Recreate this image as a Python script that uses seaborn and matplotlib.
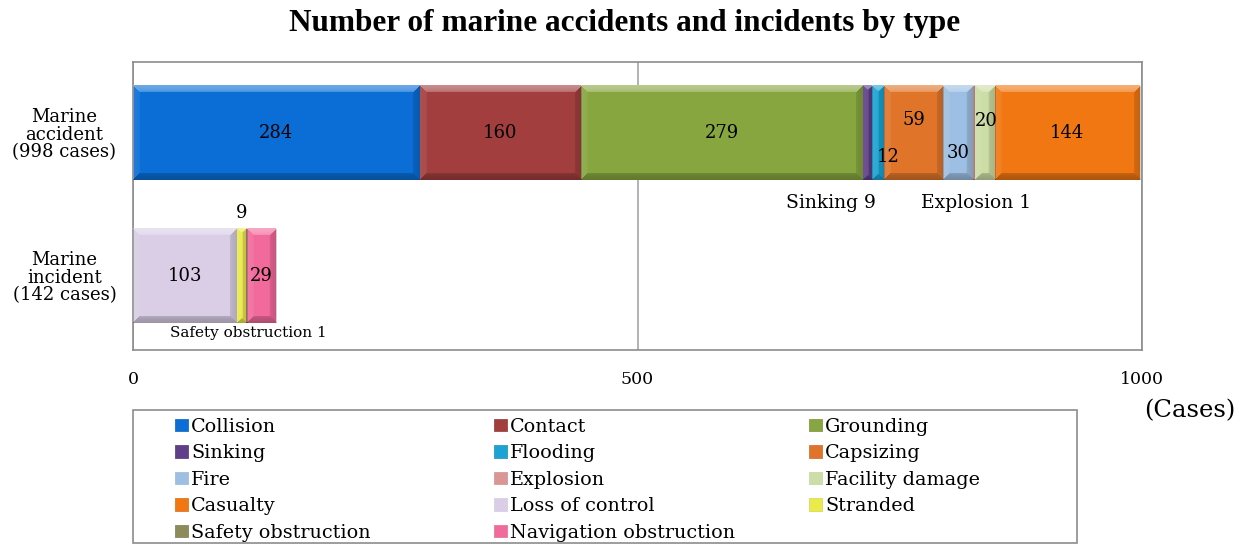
import numpy as np
import pandas as pd
import matplotlib
matplotlib.use("Agg")
import matplotlib.pyplot as plt
from matplotlib.patches import Patch, Rectangle
import seaborn as sns

# ---- data -------------------------------------------------------------
groups = ["Marine\naccident\n(998 cases)", "Marine\nincident\n(142 cases)"]
types = ["Collision", "Contact", "Grounding", "Sinking", "Flooding", "Capsizing",
         "Fire", "Explosion", "Facility damage", "Casualty", "Loss of control",
         "Stranded", "Safety obstruction", "Navigation obstruction"]
accident = [284, 160, 279, 9, 12, 59, 30, 1, 20, 144, 0, 0, 0, 0]
incident = [0, 0, 0, 0, 0, 0, 0, 0, 0, 0, 103, 9, 1, 29]
xticks = [0, 500, 1000]

colors = ["#0A6ED6", "#A23E3E", "#87A640", "#5F3F88", "#1AA3D3", "#E0752A",
          "#9DBFE3", "#D99694", "#CCDDA5", "#F07712", "#D9CEE6", "#EAEA4A",
          "#8E8B5B", "#F26A9B"]

sns.set_theme(style="white")
plt.rcParams["font.family"] = ["DejaVu Serif"]
plt.rcParams.update({"text.color": "black", "xtick.color": "black",
                     "ytick.color": "black", "axes.labelcolor": "black"})

vals = np.array([accident, incident], dtype=float)          # (group, type)
cum_end = np.cumsum(vals, axis=1)
cum_start = cum_end - vals

fig = plt.figure(figsize=(12.5, 5.45), dpi=100)
ax = fig.add_axes([0.1064, 0.3578, 0.8072, 0.5284])

YLIM = (1.521, -0.493)
bar_w = 0.664
seg_patches = {}
# stacked bars: draw cumulative totals from the last type to the first
for i in reversed(range(len(types))):
    before = len(ax.patches)
    sns.barplot(x=cum_end[:, i], y=groups, orient="h", color=colors[i],
                saturation=1, width=bar_w, errorbar=None, linewidth=0,
                edgecolor="none", ax=ax)
    new = list(ax.patches)[before:]
    for g, p in enumerate(new):
        if vals[g, i] == 0:
            p.set_visible(False)
        else:
            seg_patches[(g, i)] = p

ax.set_xlim(0, 1000)
ax.set_ylim(*YLIM)

# bevel shading on every segment
bbox = ax.get_position()
ax_w_px = bbox.width * fig.get_figwidth() * fig.dpi
ax_h_px = bbox.height * fig.get_figheight() * fig.dpi
px_x = ax_w_px / 1000.0
px_y = ax_h_px / (YLIM[0] - YLIM[1])


def bevel(x0, x1, y0, h):
    w = max(int(round((x1 - x0) * px_x)), 2)
    hh = max(int(round(h * px_y)), 2)
    b = 7.0
    yy, xx = np.mgrid[0:hh, 0:w] + 0.5
    d = np.stack([yy, hh - yy, xx, w - xx])   # top, bottom, left, right
    edge = np.argmin(d, axis=0)
    dmin = np.min(d, axis=0)
    img = np.zeros((hh, w, 4))
    shade = {0: (1.0, 0.42), 1: (0.0, 0.28), 2: (1.0, 0.10), 3: (0.0, 0.18)}
    fade = np.clip(1 - dmin / b, 0, 1) ** 0.5
    for k, (tone, strength) in shade.items():
        m = (edge == k) & (dmin < b)
        img[..., :3][m] = tone
        img[..., 3][m] = (strength * (0.5 + 0.5 * fade))[m]
    ax.imshow(img, extent=(x0, x1, y0 + h, y0), aspect="auto",
              interpolation="bilinear", zorder=3)


for (g, i), p in seg_patches.items():
    bevel(cum_start[g, i], cum_end[g, i], p.get_y(), p.get_height())

ax.set_xlim(0, 1000)
ax.set_ylim(*YLIM)

# ---- axes styling ------------------------------------------------------
ax.set_xticks(xticks)
ax.set_xticklabels([str(t) for t in xticks], fontsize=12.5)
ax.tick_params(axis="x", length=0, pad=15, labelcolor="black")
ax.tick_params(axis="y", length=0, pad=12, labelcolor="black")
for lab in ax.get_yticklabels():
    lab.set_fontsize(13)
    lab.set_multialignment("center")
    lab.set_linespacing(1.0)
ax.set_xlabel("")
ax.set_ylabel("")
ax.set_axisbelow(True)
ax.xaxis.grid(True, color="#A6A6A6", linewidth=1.2)
ax.yaxis.grid(False)
for s in ax.spines.values():
    s.set_visible(True)
    s.set_color("#8C8C8C")
    s.set_linewidth(1.2)

# ---- value labels ------------------------------------------------------
label_fmt = {3: "Sinking {}", 7: "Explosion {}", 12: "Safety obstruction {}"}
label_shift = {  # (dx in cases, dy in bar units, ha)
    (0, 3): (4, 0.49, "right"),
    (0, 4): (10, 0.17, "center"),
    (0, 5): (0, -0.09, "center"),
    (0, 6): (0, 0.14, "center"),
    (0, 7): (2, 0.49, "center"),
    (0, 8): (2, -0.08, "center"),
    (1, 11): (0, -0.44, "center"),
    (1, 12): (1.5, 0.40, "center"),
}
for (g, i), p in seg_patches.items():
    v = int(vals[g, i])
    dx, dy, ha = label_shift.get((g, i), (0, 0.0, "center"))
    xc = (cum_start[g, i] + cum_end[g, i]) / 2 + dx
    if ha == "right":
        xc = cum_end[g, i] + dx
    txt = label_fmt.get(i, "{}").format(v)
    fs = 13
    if i == 12:
        fs = 11
    elif i in (3, 7):
        fs = 13.5
    ax.text(xc, g + dy, txt, ha=ha, va="center", fontsize=fs, color="black",
            zorder=5)

# ---- title and unit ----------------------------------------------------
fig.text(0.5, 0.956, "Number of marine accidents and incidents by type",
         ha="center", va="center", fontsize=22.5, fontweight="bold",
         family="Liberation Serif", color="black")
fig.text(0.952, 0.247, "(Cases)", ha="center", va="center", fontsize=17.5,
         color="black")

# ---- legend: three columns inside a frame ------------------------------
fig.patches.append(Rectangle((133 / 1250, 2 / 545), (1077 - 133) / 1250,
                             (543 - 410) / 545,
                             transform=fig.transFigure, fill=False,
                             edgecolor="#8C8C8C", linewidth=1.2))
col_x = [175, 494, 809]
for c in range(3):
    idx = list(range(c, len(types), 3))
    handles = [Patch(facecolor=colors[k], edgecolor=sns.desaturate(colors[k], 0.8),
                     linewidth=0.6) for k in idx]
    leg = fig.legend(handles, [types[k] for k in idx], loc="upper left",
                     bbox_to_anchor=(col_x[c] / 1250, 1 - 418 / 545),
                     frameon=False, fontsize=13.8, handlelength=0.68,
                     handleheight=0.62, handletextpad=0.15, labelspacing=0.44,
                     borderpad=0.0, borderaxespad=0.0)
    for t in leg.get_texts():
        t.set_color("black")

fig.savefig("out.png", dpi=100)
